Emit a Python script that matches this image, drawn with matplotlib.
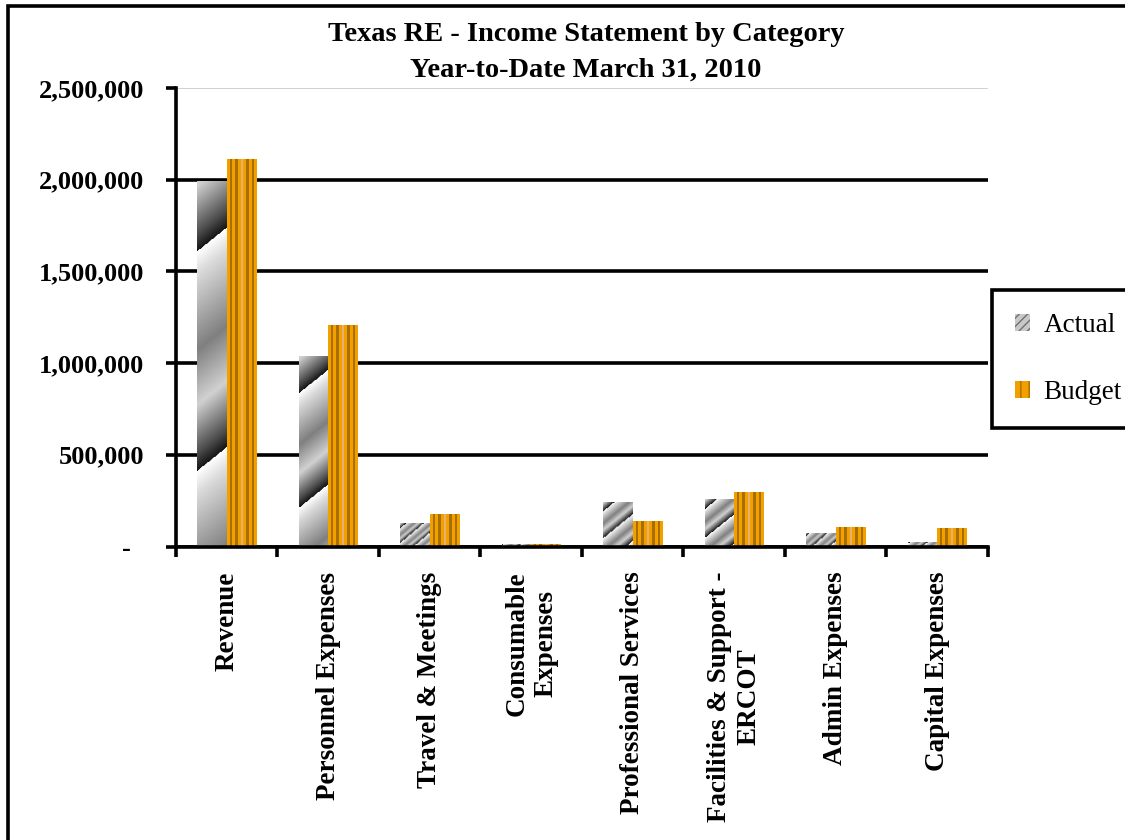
import numpy as np
import matplotlib
matplotlib.use("Agg")
import matplotlib.pyplot as plt
from matplotlib.patches import Patch, Rectangle
from matplotlib.ticker import FuncFormatter

plt.rcParams['font.family'] = ['Liberation Serif', 'DejaVu Serif']

categories = ["Revenue", "Personnel Expenses", "Travel & Meetings",
              "Consumable\nExpenses", "Professional Services",
              "Facilities & Support -\nERCOT", "Admin Expenses", "Capital Expenses"]
actual = [1995000, 1040000, 126000, 14000, 240000, 260000, 72000, 25000]
budget = [2115000, 1209000, 175000, 14000, 140000, 295000, 105000, 100000]
yticks = [0, 500000, 1000000, 1500000, 2000000, 2500000]

ORANGE = np.array([242, 160, 0]) / 255
DARK = np.array([168, 110, 0]) / 255
LIGHT = np.array([232, 176, 110]) / 255
STRIPES = [ORANGE, DARK, ORANGE, DARK, ORANGE, LIGHT, ORANGE, DARK, ORANGE, DARK, ORANGE]


def fmt(v, pos):
    if v == 0:
        return "-  "
    return "{:,.0f}".format(v)


fig = plt.figure(figsize=(11.25, 8.4), dpi=100)
ax = fig.add_axes([0.1564, 0.3494, 0.7218, 0.5458])

x = np.arange(len(categories))
w = 0.29
bars_a = ax.bar(x - w / 2, actual, w, color="#c8c8c8", linewidth=0, zorder=2)
bars_b = ax.bar(x + w / 2, budget, w, color="#f2a000", linewidth=0, zorder=2)

ax.set_xlim(-0.5, len(categories) - 0.5)
ax.set_ylim(0, 2500000)


def px_size(patch):
    x0, y0 = patch.get_x(), patch.get_y()
    p0 = ax.transData.transform((x0, y0))
    p1 = ax.transData.transform((x0 + patch.get_width(), y0 + patch.get_height()))
    return max(int(round(p1[0] - p0[0])), 1), max(int(round(p1[1] - p0[1])), 1)


# metallic diagonal texture for the actual bars
for b in bars_a:
    wp, hp = px_size(b)
    period = max(0.6 * hp, 14)
    py, pxx = np.mgrid[0:hp, 0:wp]
    s = py + 0.83 * pxx - 0.19 * hp
    t = np.mod(s / period, 1.0)
    v = np.interp(t, [0, 0.1, 0.45, 0.7, 0.92, 1.0], [1.0, 0.86, 0.5, 0.82, 0.3, 0.08])
    img = np.dstack([v, v, v])
    ax.imshow(img, extent=(b.get_x(), b.get_x() + b.get_width(), 0, b.get_height()),
              origin="upper", aspect="auto", interpolation="bilinear", zorder=2.1)

# vertical stripe texture for the budget bars
for b in bars_b:
    row = np.array(STRIPES)[None, :, :]
    ax.imshow(row, extent=(b.get_x(), b.get_x() + b.get_width(), 0, b.get_height()),
              origin="upper", aspect="auto", interpolation="nearest", zorder=2.1)

ax.set_xlim(-0.5, len(categories) - 0.5)
ax.set_ylim(0, 2500000)

ax.set_yticks(yticks)
ax.yaxis.set_major_formatter(FuncFormatter(fmt))
ax.yaxis.grid(True, color="black", linewidth=2.6)
gl = ax.get_ygridlines()
gl[-1].set_color("#c8c8c8")
gl[-1].set_linewidth(1.2)
ax.set_axisbelow(True)

ax.set_xticks(np.arange(len(categories) + 1) - 0.5)
ax.set_xticklabels([])
ax.set_xticks(x, minor=True)
ax.set_xticklabels(categories, minor=True, rotation=90, ha="center", va="top",
                   multialignment="center", fontweight="bold", fontsize=19.5)
ax.tick_params(axis="x", which="minor", length=0, pad=18)
ax.tick_params(axis="x", which="major", length=7, width=2.6, direction="out")
ax.tick_params(axis="y", length=7, width=2.6, direction="out", pad=16, labelsize=19)
for lab in ax.get_yticklabels():
    lab.set_fontweight("bold")

for side in ("top", "right"):
    ax.spines[side].set_visible(False)
for side in ("left", "bottom"):
    ax.spines[side].set_linewidth(2.6)
    ax.spines[side].set_color("black")

fig.text(586 / 1125, 1 - 52 / 840,
         "Texas RE - Income Statement by Category\nYear-to-Date March 31, 2010",
         ha="center", va="center", fontsize=20.5, fontweight="bold", linespacing=1.55)

handles = [Patch(facecolor="#c8c8c8", edgecolor="#707070", hatch="////", linewidth=0),
           Patch(facecolor="#f2a000", edgecolor="#a86e00", hatch="||", linewidth=0)]
leg = fig.legend(handles, ["Actual", "Budget"], loc="upper left",
                 bbox_to_anchor=(992 / 1125, 1 - 290 / 840), fontsize=19.5,
                 frameon=True, fancybox=False, edgecolor="black", framealpha=1,
                 borderpad=0.85, labelspacing=1.55, handlelength=0.55, handleheight=0.55,
                 handletextpad=0.5, borderaxespad=0)
leg.get_frame().set_linewidth(2.6)

fig.patches.append(Rectangle((8 / 1125, -0.1), 1.2, 1.1 - 6 / 840, transform=fig.transFigure,
                             fill=False, edgecolor="black", linewidth=2.6))

fig.savefig("out.png", dpi=100)
